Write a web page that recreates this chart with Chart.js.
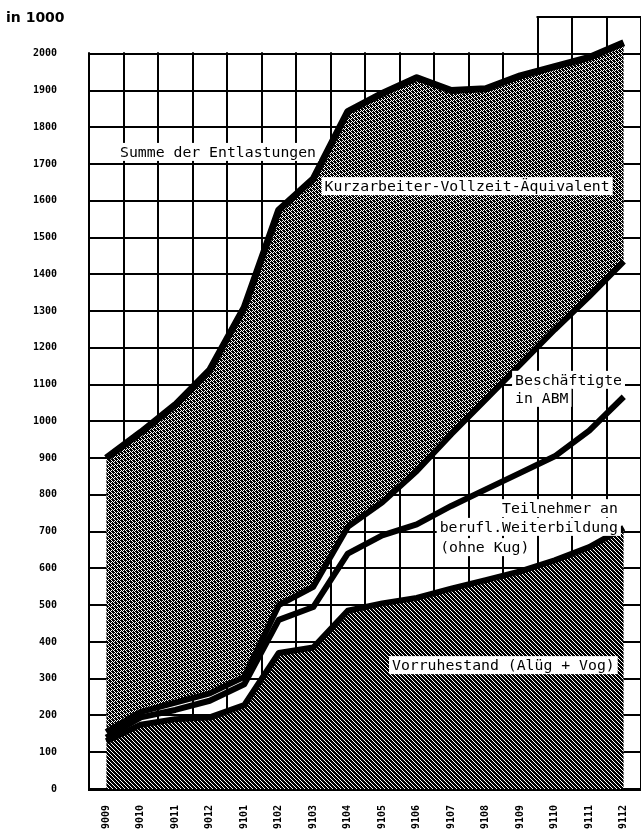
<!DOCTYPE html>
<html>
<head>
<meta charset="utf-8">
<script src="https://cdn.jsdelivr.net/npm/chart.js@4.4.1/dist/chart.umd.min.js"></script>
<style>
  body { margin: 0; background: #fff; }
  canvas { display: block; }
</style>
</head>
<body>
<canvas id="chart" width="641" height="829"></canvas>
<script>
// months (YYMM) and the upper edge of each stacked band, in 1000
const months = ['9009','9010','9011','9012','9101','9102','9103','9104',
                '9105','9106','9107','9108','9109','9110','9111','9112'];
const vorruhestand  = [130, 175, 190, 195, 228, 370, 385, 485, 505, 520, 545, 568, 592, 622, 658, 710];
const weiterbildung = [140, 195, 215, 240, 285, 460, 495, 640, 690, 720, 770, 815, 860, 905, 975, 1067];
const abm           = [155, 210, 235, 260, 305, 500, 550, 713, 780, 865, 965, 1060, 1155, 1250, 1340, 1435];
const summe         = [900, 970, 1045, 1140, 1310, 1575, 1660, 1843, 1892, 1935, 1900, 1905, 1940, 1965, 1990, 2030];
const yMax = 2100;
const yStep = 100;

// halftone fills like the scanned original
function makePattern(size, isBlack) {
  const c = document.createElement('canvas');
  c.width = c.height = size;
  const g = c.getContext('2d');
  const img = g.createImageData(size, size);
  for (let y = 0; y < size; y++) {
    for (let x = 0; x < size; x++) {
      const k = (y * size + x) * 4;
      const v = isBlack(x, y) ? 0 : 255;
      img.data[k] = img.data[k + 1] = img.data[k + 2] = v;
      img.data[k + 3] = 255;
    }
  }
  g.putImageData(img, 0, 0);
  return g.createPattern(c, 'repeat');
}
const ctx = document.getElementById('chart').getContext('2d');
const darkHatch = makePattern(8, (x, y) => ((x - y + 16) % 4) !== 0);
const greyDither = makePattern(12, (x, y) => ((x + y) % 2 === 0) || ((x - y + 24) % 4 === 1 && x % 3 !== 0));

const notes = [
  { text: 'Summe der Entlastungen', i: 3.24, v: 1733, align: 'center' },
  { text: 'Kurzarbeiter-Vollzeit-Äquivalent', i: 10.46, v: 1640, align: 'center' },
  { text: 'Beschäftigte', i: 11.85, v: 1113, align: 'left' },
  { text: 'in ABM', i: 11.85, v: 1064, align: 'left' },
  { text: 'Teilnehmer an', i: 14.83, v: 764, align: 'right' },
  { text: 'berufl.Weiterbildung', i: 14.83, v: 713, align: 'right' },
  { text: '(ohne Kug)', i: 9.68, v: 658, align: 'left' },
  { text: 'Vorruhestand (Alüg + Vog)', i: 11.51, v: 337, align: 'center' }
];

const decorations = {
  id: 'decorations',
  afterDraw(chart) {
    const { ctx, chartArea, scales } = chart;
    const x = scales.x, y = scales.y;
    ctx.save();
    // the grid only reaches above 2000 for the last three months
    const cut = (x.getPixelForValue(12) + x.getPixelForValue(13)) / 2;
    ctx.fillStyle = '#fff';
    ctx.fillRect(chartArea.left - 3, chartArea.top - 3, cut - chartArea.left + 2, y.getPixelForValue(2000) - chartArea.top + 1.5);

    ctx.fillStyle = '#000';
    ctx.font = 'bold 14px "DejaVu Sans"';
    ctx.textBaseline = 'alphabetic';
    ctx.fillText('in 1000', 6, 22);

    ctx.font = '14.8px "DejaVu Sans Mono"';
    ctx.textBaseline = 'middle';
    notes.forEach(n => {
      const px = x.getPixelForValue(n.i);
      const py = y.getPixelForValue(n.v);
      const w = ctx.measureText(n.text).width;
      let left = px;
      if (n.align === 'center') left = px - w / 2;
      if (n.align === 'right') left = px - w;
      ctx.fillStyle = '#fff';
      ctx.fillRect(left - 3, py - 9, w + 6, 18);
      ctx.fillStyle = '#000';
      ctx.textAlign = 'left';
      ctx.fillText(n.text, left, py + 1);
    });
    ctx.restore();
  }
};

const line = { borderColor: '#000', borderWidth: 6, pointRadius: 0, tension: 0,
               borderJoinStyle: 'round', borderCapStyle: 'butt' };

new Chart(ctx, {
  type: 'line',
  data: {
    labels: months,
    datasets: [
      { ...line, label: 'Vorruhestand (Alüg + Vog)', data: vorruhestand, fill: 'origin', backgroundColor: darkHatch },
      { ...line, label: 'Teilnehmer an berufl. Weiterbildung (ohne Kug)', data: weiterbildung, fill: false },
      { ...line, label: 'Beschäftigte in ABM', data: abm, fill: false },
      { ...line, label: 'Kurzarbeiter-Vollzeit-Äquivalent', data: summe, fill: '-1', backgroundColor: greyDither, borderWidth: 7 }
    ]
  },
  options: {
    responsive: false,
    animation: false,
    devicePixelRatio: 1,
    layout: { padding: { top: 17, right: 0, left: 0, bottom: 0 } },
    plugins: {
      legend: { display: false },
      tooltip: { enabled: false },
      title: { display: false }
    },
    scales: {
      x: {
        z: 1,
        offset: true,
        grid: { offset: true, color: '#000', lineWidth: 2, drawTicks: false },
        border: { display: true, color: '#000', width: 3 },
        ticks: {
          color: '#000', minRotation: 90, maxRotation: 90, padding: 16, autoSkip: false,
          font: { family: '"DejaVu Sans Mono"', size: 10, weight: 'bold' }
        },
        afterFit(scale) { scale.height = 40; scale.paddingLeft = 0; scale.paddingRight = 0; }
      },
      y: {
        z: 1,
        min: 0,
        max: yMax,
        grid: { color: '#000', lineWidth: 2, drawTicks: false },
        border: { display: true, color: '#000', width: 2 },
        ticks: {
          stepSize: yStep, color: '#000', padding: 32,
          font: { family: '"DejaVu Sans Mono"', size: 10, weight: 'bold' },
          callback: v => (v > 2000 ? '' : v)
        },
        afterFit(scale) { scale.width = 89; scale.paddingTop = 0; scale.paddingBottom = 0; }
      }
    }
  },
  plugins: [decorations]
});
</script>
</body>
</html>
